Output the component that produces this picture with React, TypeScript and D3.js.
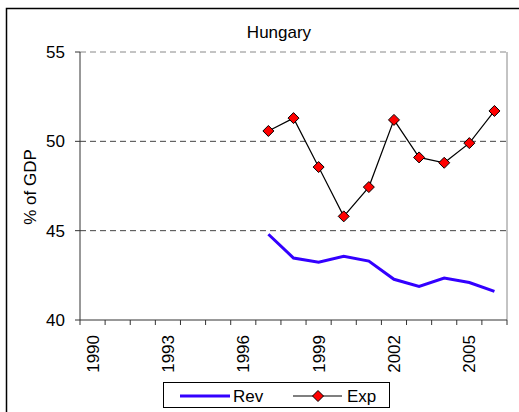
import React from "react";
import * as d3 from "d3";

const years = ["1990","1991","1992","1993","1994","1995","1996","1997","1998","1999","2000","2001","2002","2003","2004","2005","2006"];
const tickLabels = ["1990","1993","1996","1999","2002","2005"];
const revYears = ["1997","1998","1999","2000","2001","2002","2003","2004","2005","2006"];
const revValues = [44.8, 43.47, 43.23, 43.56, 43.3, 42.28, 41.88, 42.35, 42.1, 41.6];
const expValues = [50.58, 51.3, 48.56, 45.8, 47.44, 51.2, 49.1, 48.8, 49.9, 51.7];
const yTicks = [40, 45, 50, 55];

export default function App() {
  const left = 80, right = 507, top = 52, bottom = 320;
  const x = d3.scaleBand<string>().domain(years).range([left, right]);
  const y = d3.scaleLinear().domain([40, 55]).range([bottom, top]);
  const cx = (yr: string) => (x(yr) as number) + x.bandwidth() / 2;
  const line = d3.line<number>().x((_, i) => cx(revYears[i])).y(d => y(d));
  const font = "Arial, 'Liberation Sans', sans-serif";
  const fs = 17;
  const diamond = (px: number, py: number, r = 5.5) =>
    `M${px},${py - r}L${px + r},${py}L${px},${py + r}L${px - r},${py}Z`;
  return (
    <svg width={519} height={412} style={{ position: "absolute", left: 0, top: 0 }} fontFamily={font}>
      <rect x={0} y={0} width={519} height={412} fill="#fff" />
      <rect x={6.5} y={8.5} width={530} height={430} fill="#fff" stroke="#000" strokeWidth={1.5} />
      <text x={279} y={38} fontSize={fs} textAnchor="middle">Hungary</text>
      {yTicks.filter(t => t > 40).map(t => (
        <line key={t} x1={left} x2={right} y1={y(t)} y2={y(t)} stroke={t === 55 ? "#888" : "#444"} strokeDasharray="6,4" />
      ))}
      <line x1={right} x2={right} y1={top} y2={bottom} stroke="#888" strokeWidth={1} />
      <line x1={left} x2={left} y1={top} y2={bottom} stroke="#333" strokeWidth={1} />
      <line x1={left} x2={right} y1={bottom} y2={bottom} stroke="#333" strokeWidth={1} />
      {yTicks.map(t => (
        <g key={t}>
          <line x1={left - 5} x2={left} y1={y(t)} y2={y(t)} stroke="#333" />
          <text x={65} y={y(t) + 6} fontSize={fs} textAnchor="end">{t}</text>
        </g>
      ))}
      {years.map(yr => (
        <line key={yr} x1={x(yr) as number} x2={x(yr) as number} y1={bottom} y2={bottom + 5} stroke="#333" />
      ))}
      <line x1={right} x2={right} y1={bottom} y2={bottom + 5} stroke="#333" />
      {tickLabels.map(t => (
        <text key={t} transform={`translate(${cx(t) + 6},${335}) rotate(-90)`} fontSize={fs} textAnchor="end">{t}</text>
      ))}
      <text transform={`translate(36,${187}) rotate(-90)`} fontSize={fs} textAnchor="middle">% of GDP</text>
      <path d={line(revValues) || ""} fill="none" stroke="#3300ff" strokeWidth={3} />
      <path d={line(expValues) || ""} fill="none" stroke="#000" strokeWidth={1.2} />
      {expValues.map((v, i) => (
        <path key={i} d={diamond(cx(revYears[i]), y(v))} fill="#ff0000" stroke="#000" strokeWidth={1} />
      ))}
      <rect x={163.5} y={382.5} width={226} height={25} fill="#fff" stroke="#000" />
      <line x1={180} x2={230} y1={396} y2={396} stroke="#3300ff" strokeWidth={3} />
      <text x={233} y={402} fontSize={fs}>Rev</text>
      <line x1={293} x2={342} y1={396} y2={396} stroke="#000" strokeWidth={1.2} />
      <path d={diamond(318, 396)} fill="#ff0000" stroke="#000" />
      <text x={347} y={402} fontSize={fs}>Exp</text>
    </svg>
  );
}
